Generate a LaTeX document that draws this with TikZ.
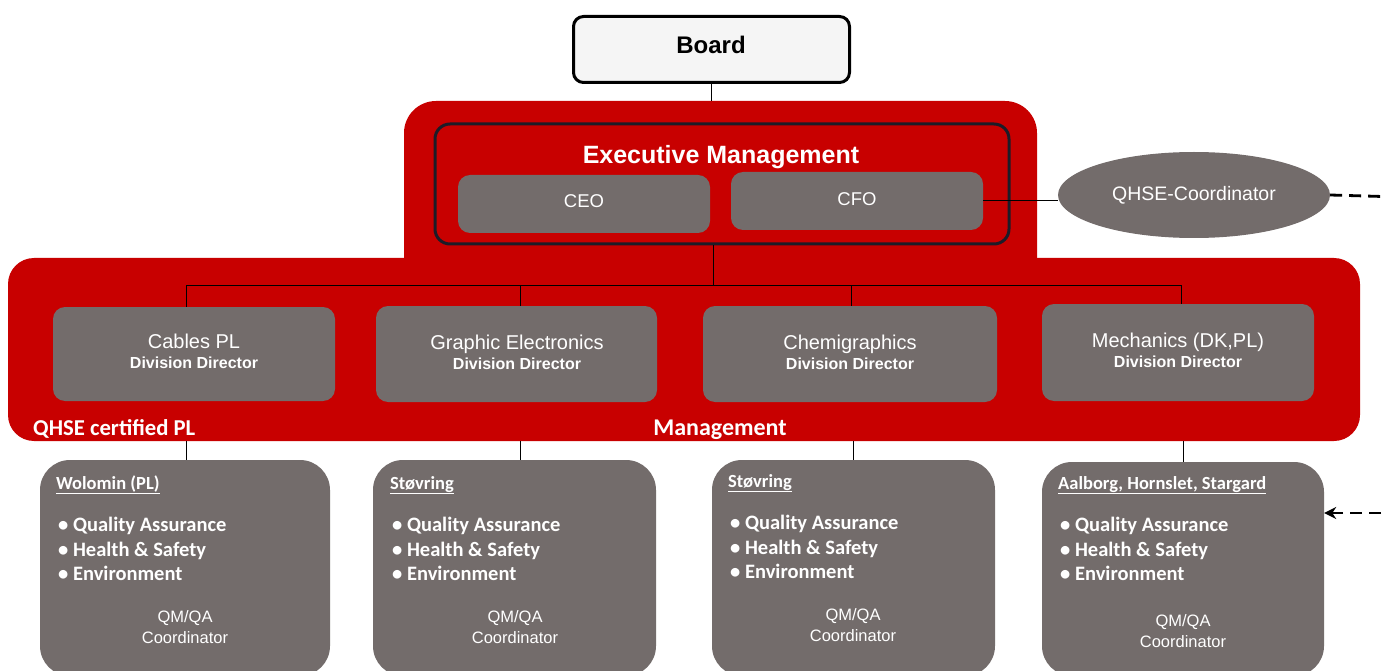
\documentclass[tikz,border=0pt]{standalone}
\usepackage{fontspec}
\setmainfont{Liberation Sans}
\newfontfamily\calib{Carlito}
\usetikzlibrary{arrows.meta,shapes.geometric}
\definecolor{rdc}{HTML}{C80000}
\definecolor{gryc}{HTML}{736C6B}
\definecolor{bordc}{HTML}{1C1C28}
\tikzset{
  redarea/.style={fill=rdc, draw=none},
  graybox/.style={fill=gryc, draw=none, rounded corners=12pt, text=white},
  locbox/.style={fill=gryc, draw=none, rounded corners=30pt},
  conn/.style={draw=black, line width=1pt},
  dashc/.style={draw=black, line width=2.8pt, dash pattern=on 12pt off 7pt},
  wtxt/.style={text=white, inner sep=0pt},
  exlabel/.style={wtxt, anchor=base, font=\fontsize{18.5}{22}\selectfont},
  divtitle/.style={wtxt, anchor=base, font=\fontsize{20}{24}\selectfont},
  divsub/.style={wtxt, anchor=base, font=\bfseries\fontsize{16}{19}\selectfont},
  bullets/.style={wtxt, anchor=north west, align=left, font=\calib\bfseries\fontsize{20.5}{24.5}\selectfont},
  loch/.style={wtxt, anchor=base west, font=\calib\bfseries\fontsize{18.5}{22}\selectfont},
  coord/.style={wtxt, align=center, font=\fontsize{16.5}{21}\selectfont},
}
\begin{document}
\begin{tikzpicture}[x=1pt,y=-1pt]
\useasboundingbox (0,0) rectangle (1382,671);
\clip (0,0) rectangle (1382,671);
% red areas
\fill[redarea, rounded corners=32pt] (404,101) rectangle (1037,300);
\fill[redarea, rounded corners=26pt] (8,258) rectangle (1360,441);
% board
\node[draw=black, line width=3pt, fill={rgb,255:red,245;green,245;blue,245}, rounded corners=10pt,
  minimum width=276pt, minimum height=66pt] (board) at (711.5,49.5) {};
\node[inner sep=0pt, anchor=base, font=\bfseries\fontsize{24}{28}\selectfont] (boardtxt) at (711,53.5) {Board};
\coordinate (redtop) at (711.5,101);
\draw[conn] (board.south) -- (redtop);
% executive box
\node[draw=bordc, line width=3pt, rounded corners=15pt, minimum width=574pt, minimum height=120pt] (exec) at (722,184) {};
\node[wtxt, anchor=base, font=\bfseries\fontsize{25}{29}\selectfont] (exectitle) at (721,163.5) {Executive Management};
\node[graybox, minimum width=252pt, minimum height=58pt] (ceo) at (584,204) {};
\node[graybox, minimum width=252pt, minimum height=58pt] (cfo) at (857,201) {};
\node[exlabel] (ceotxt) at (584,208) {CEO};
\node[exlabel] (cfotxt) at (857,205.5) {CFO};
% QHSE coordinator
\node[ellipse, fill=gryc, minimum width=272pt, minimum height=86pt, inner sep=0pt] (qhse) at (1194,195) {};
\node[wtxt, anchor=base, font=\fontsize{19.5}{23}\selectfont] (qhsetxt) at (1194,201) {QHSE-Coordinator};
\draw[conn] (cfo.east) -- (cfo.east -| qhse.west);
\coordinate (offr) at (1400,197);
\draw[dashc] (qhse.east) -- (offr);
% division boxes
\node[graybox, minimum width=282pt, minimum height=94pt] (d1) at (194,354) {};
\node[graybox, minimum width=281pt, minimum height=96pt] (d2) at (516.5,354) {};
\node[graybox, minimum width=294pt, minimum height=96pt] (d3) at (850,354) {};
\node[graybox, minimum width=272pt, minimum height=97pt] (d4) at (1178,352.5) {};
\node[divtitle] (t1) at (194,348.5) {Cables PL};
\node[divsub] (s1) at (194,368) {Division Director};
\node[divtitle] (t2) at (517,349.5) {Graphic Electronics};
\node[divsub] (s2) at (517,369.5) {Division Director};
\node[divtitle] (t3) at (850,349.5) {Chemigraphics};
\node[divsub] (s3) at (850,369.5) {Division Director};
\node[divtitle] (t4) at (1178,347.5) {Mechanics (DK,PL)};
\node[divsub] (s4) at (1178,367.5) {Division Director};
% tree connectors
\coordinate (bus) at (713,285);
\draw[conn] (exec.south -| bus) -- (bus);
\draw[conn] (186,285) -- (1181,285);
\draw[conn] (186,285) -- (d1.north -| 186,0);
\draw[conn] (520,285) -- (d2.north -| 520,0);
\draw[conn] (851,285) -- (d3.north -| 851,0);
\draw[conn] (1181,285) -- (d4.north -| 1181,0);
% red labels
\node[wtxt, anchor=base west, font=\calib\bfseries\fontsize{22.7}{26}\selectfont] (qcert) at (33,435.5) {QHSE certified PL};
\node[wtxt, anchor=base, font=\calib\bfseries\fontsize{24}{28}\selectfont] (mgmt) at (720,435.5) {Management};
% location boxes
\node[locbox, minimum width=290pt, minimum height=216pt] (l1) at (185,568) {};
\node[locbox, minimum width=283pt, minimum height=216pt] (l2) at (514.5,568) {};
\node[locbox, minimum width=283pt, minimum height=216pt] (l3) at (853.5,568) {};
\node[locbox, minimum width=282pt, minimum height=214pt] (l4) at (1183,569) {};
\coordinate (r1) at (186,441);
\coordinate (r2) at (520,441);
\coordinate (r3) at (853,441);
\coordinate (r4) at (1183,441);
\draw[conn] (r1) -- (r1 |- l1.north);
\draw[conn] (r2) -- (r2 |- l2.north);
\draw[conn] (r3) -- (r3 |- l3.north);
\draw[conn] (r4) -- (r4 |- l4.north);
% location texts
\node[loch] (h1) at (56,489) {\underline{Wolomin (PL)}};
\node[loch] (h2) at (390,489) {\underline{Støvring}};
\node[loch] (h3) at (728,487) {\underline{Støvring}};
\node[loch] (h4) at (1058,489) {\underline{Aalborg, Hornslet, Stargard}};
\node[bullets] (b1) at (58,517) {• Quality Assurance\\• Health \& Safety\\• Environment};
\node[bullets] (b2) at (392,517) {• Quality Assurance\\• Health \& Safety\\• Environment};
\node[bullets] (b3) at (730,515) {• Quality Assurance\\• Health \& Safety\\• Environment};
\node[bullets] (b4) at (1060,517) {• Quality Assurance\\• Health \& Safety\\• Environment};
\node[coord] (c1) at (185,627.5) {QM/QA\\Coordinator};
\node[coord] (c2) at (515,627.5) {QM/QA\\Coordinator};
\node[coord] (c3) at (853,625.5) {QM/QA\\Coordinator};
\node[coord] (c4) at (1183,631.5) {QM/QA\\Coordinator};
% dashed feedback arrow
\coordinate (offr2) at (1400,513);
\draw[dashc, -{Stealth[length=12pt,width=12pt]}] (offr2) -- (l4.east |- offr2);
\end{tikzpicture}
\end{document}
